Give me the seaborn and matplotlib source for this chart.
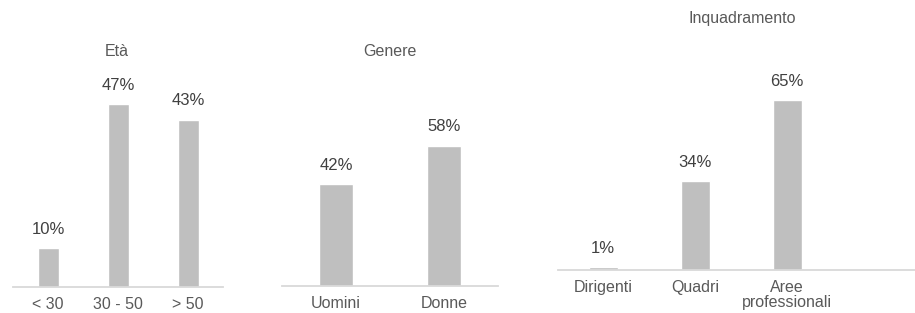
import matplotlib
matplotlib.use("Agg")
import matplotlib.pyplot as plt
import seaborn as sns

# data
eta_cats = ["< 30", "30 - 50", "> 50"]
eta_vals = [10, 47, 43]

genere_cats = ["Uomini", "Donne"]
genere_vals = [42, 58]

inq_cats = ["Dirigenti", "Quadri", "Aree\nprofessionali"]
inq_vals = [1, 34, 65]

sns.set_style("white")
plt.rcParams["font.family"] = ["Liberation Sans", "DejaVu Sans"]

W, H = 915, 313
fig = plt.figure(figsize=(W / 100, H / 100), dpi=100)

BAR = "#BFBFBF"
AXIS = "#D9D9D9"
TXT = "#595959"
VAL = "#404040"


def px_axes(left, right, base, top):
    return fig.add_axes([left / W, (H - base) / H, (right - left) / W, (base - top) / H])


def panel(ax, cats, vals, width, ytop, xlim=None):
    sns.barplot(x=cats, y=vals, ax=ax, color=BAR, saturation=1, width=width)
    ax.set_ylim(0, ytop)
    if xlim is not None:
        ax.set_xlim(*xlim)
    for s in ["left", "right", "top"]:
        ax.spines[s].set_visible(False)
    ax.spines["bottom"].set_color(AXIS)
    ax.spines["bottom"].set_linewidth(1.3)
    ax.set_yticks([])
    ax.set_ylabel("")
    ax.set_xlabel("")
    ax.tick_params(axis="x", length=0, pad=7.5, labelsize=11.5, labelcolor=TXT)
    for lbl in ax.get_xticklabels():
        lbl.set_linespacing(0.95)
    for p, v in zip(ax.patches, vals):
        ax.annotate(f"{v}%", (p.get_x() + p.get_width() / 2, p.get_height()),
                    xytext=(0, 13.5), textcoords="offset points",
                    ha="center", va="center", fontsize=12, color=VAL)


ax1 = px_axes(13, 223, 287, 40)
panel(ax1, eta_cats, eta_vals, 0.3, 247 / 3.89)

ax2 = px_axes(282, 498, 286, 40)
panel(ax2, genere_cats, genere_vals, 0.31, 246 / 2.42)

ax3 = px_axes(558, 915, 270, 40)
panel(ax3, inq_cats, inq_vals, 0.315, 230 / 2.615, xlim=(-0.49, 3.39))

fig.text(117 / W, 1 - 51 / H, "Età", ha="center", va="center", fontsize=11.5, color=TXT)
fig.text(390 / W, 1 - 52 / H, "Genere", ha="center", va="center", fontsize=11.5, color=TXT)
fig.text(742 / W, 1 - 19 / H, "Inquadramento", ha="center", va="center", fontsize=11.5, color=TXT)

fig.savefig("out.png", dpi=100, facecolor="white")
